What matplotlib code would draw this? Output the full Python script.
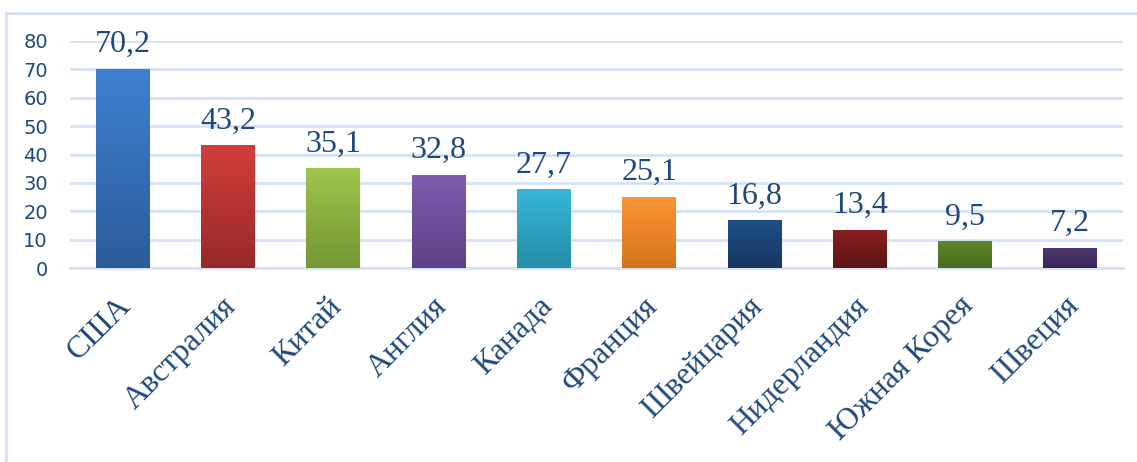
import matplotlib
matplotlib.use("Agg")
import matplotlib.pyplot as plt
import numpy as np
from matplotlib.colors import LinearSegmentedColormap
from matplotlib.lines import Line2D
from matplotlib.transforms import ScaledTranslation

categories = ["США", "Австралия", "Китай", "Англия", "Канада", "Франция",
              "Швейцария", "Нидерландия", "Южная Корея", "Швеция"]
values = [70.2, 43.2, 35.1, 32.8, 27.7, 25.1, 16.8, 13.4, 9.5, 7.2]
value_labels = ["70,2", "43,2", "35,1", "32,8", "27,7", "25,1", "16,8", "13,4", "9,5", "7,2"]
top_colors = ["#3F80D2", "#D23E3A", "#9FC54B", "#7F5CB0", "#37B6DA", "#FA9633",
              "#1F4F87", "#8A2020", "#60892B", "#4E3771"]
bottom_colors = ["#2C5C98", "#98292A", "#759634", "#5D4185", "#258EA6", "#D6741D",
                 "#16365E", "#5C1515", "#4A6A1E", "#3A2656"]
yticks = [0, 10, 20, 30, 40, 50, 60, 70, 80]

text_color = "#1F497D"
grid_color = "#D5E2F3"

fig = plt.figure(figsize=(11.37, 4.62), dpi=100)
ax = fig.add_axes([70/1137, 1-268/462, (1123-70)/1137, (268-41)/462])
ax.set_xlim(-0.5, len(categories) - 0.5)
ax.set_ylim(0, 80)

x = np.arange(len(categories))
bars = ax.bar(x, values, width=0.51, color="none", zorder=3)
grad = np.linspace(1, 0, 256).reshape(-1, 1)
for i, b in enumerate(bars):
    # shadow
    ax.add_patch(plt.Rectangle((b.get_x() + 0.01, -0.9), b.get_width() - 0.02, 0.9,
                               color="#BBBBBB", alpha=0.5, zorder=2, lw=0))
    cmap = LinearSegmentedColormap.from_list(f"g{i}", [bottom_colors[i], top_colors[i]])
    im = ax.imshow(grad, cmap=cmap, aspect="auto", zorder=3,
                   extent=[b.get_x(), b.get_x() + b.get_width(), 0, b.get_height()],
                   origin="upper")
    im.set_clip_path(b)
    ax.annotate(value_labels[i], (b.get_x() + b.get_width()/2, b.get_height()),
                xytext=(0, 12), textcoords="offset points", ha="center", va="baseline",
                fontsize=23, family="Liberation Serif", color=text_color, zorder=4)

ax.set_xlim(-0.5, len(categories) - 0.5)
ax.set_ylim(0, 80)
ax.set_yticks(yticks)
ax.set_yticklabels([str(t) for t in yticks], fontsize=14, color=text_color, family="DejaVu Sans")
ax.tick_params(axis="y", length=0, pad=16)
ax.set_xticks(x)
ax.set_xticklabels(categories, rotation=45, ha="right", rotation_mode="anchor",
                   fontsize=23, family="Liberation Serif", color=text_color)
ax.tick_params(axis="x", length=0, pad=17)
shift = ScaledTranslation(-6/100, 0, fig.dpi_scale_trans)
for lbl in ax.get_xticklabels():
    lbl.set_transform(lbl.get_transform() + shift)
ax.grid(axis="y", color=grid_color, lw=2, zorder=0)
ax.set_axisbelow(True)
for s in ["top", "right", "left"]:
    ax.spines[s].set_visible(False)
ax.spines["bottom"].set_color(grid_color)
ax.spines["bottom"].set_linewidth(2)
ax.set_facecolor("none")

fig.add_artist(Line2D([6/1137, 6/1137], [0, 1-13/462], transform=fig.transFigure,
                      color="#D2E0F1", lw=1.8))
fig.add_artist(Line2D([6/1137, 1], [1-13/462, 1-13/462], transform=fig.transFigure,
                      color="#D2E0F1", lw=1.8))

fig.savefig("out.png", dpi=100)
